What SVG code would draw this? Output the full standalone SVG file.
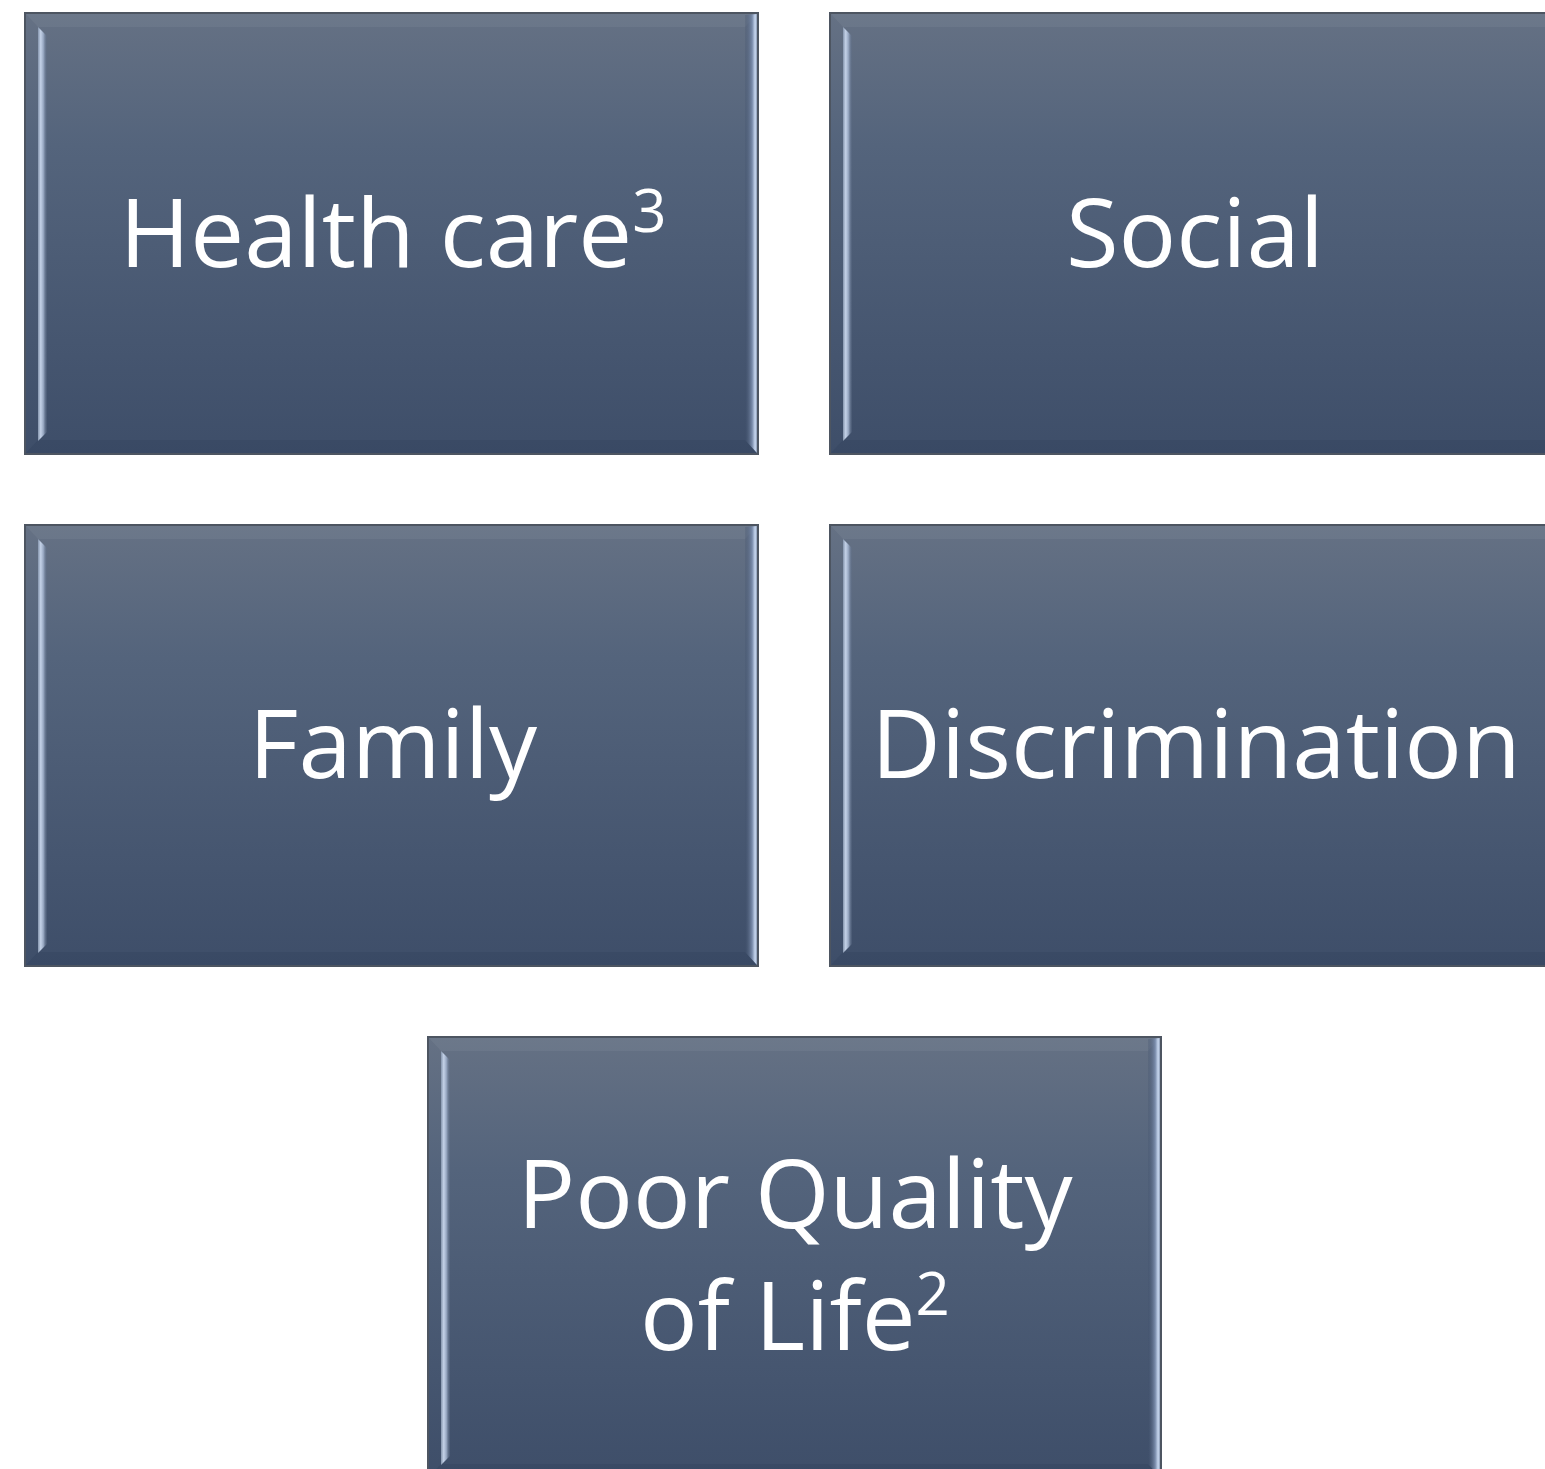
<svg xmlns="http://www.w3.org/2000/svg" xmlns:xlink="http://www.w3.org/1999/xlink" width="1545" height="1469" viewBox="0 0 1545 1469">
<defs>
<linearGradient id="fill" x1="0" y1="0" x2="0" y2="1">
<stop offset="0" stop-color="#657184"/>
<stop offset="0.3" stop-color="#54647c"/>
<stop offset="1" stop-color="#3e4e69"/>
</linearGradient>
<linearGradient id="lhi" x1="0" y1="0" x2="1" y2="0">
<stop offset="0" stop-color="#8595ad"/>
<stop offset="0.3" stop-color="#c4d2e8"/>
<stop offset="0.6" stop-color="#98a8c2"/>
<stop offset="1" stop-color="#5a6a84" stop-opacity="0.3"/>
</linearGradient>
<linearGradient id="rhi" x1="0" y1="0" x2="1" y2="0">
<stop offset="0" stop-color="#3e4e69" stop-opacity="0.2"/>
<stop offset="0.6" stop-color="#7a8cab"/>
<stop offset="0.85" stop-color="#c8d8f0"/>
<stop offset="1" stop-color="#8a9ab4"/>
</linearGradient>
<symbol id="box" overflow="visible">
<rect x="0" y="0" width="733" height="441" fill="url(#fill)" stroke="#4d5561" stroke-width="2"/>
<polygon points="1,1 732,1 720,14 13,14" fill="#ffffff" fill-opacity="0.05"/>
<polygon points="13,427 720,427 732,440 1,440" fill="#1c2a40" fill-opacity="0.12"/>
<polygon points="13,14 22,23 22,419 13,428" fill="url(#lhi)"/>
<polygon points="720,2 732,1 732,440 720,427" fill="url(#rhi)"/>
</symbol>
<style>
.t{font-family:"Open Sans","Liberation Sans",sans-serif;fill:#ffffff;font-size:96px;text-anchor:middle}
.sup{font-size:60px}
</style>
</defs>
<rect width="1545" height="1469" fill="#ffffff"/>
<g id="connectors"/>
<g id="node-healthcare">
<use xlink:href="#box" x="25" y="13"/>
<text class="t" x="393" y="267">Health care<tspan class="sup" dy="-35">3</tspan></text>
</g>
<g id="node-social">
<use xlink:href="#box" x="830" y="13"/>
<text class="t" x="1195" y="267">Social</text>
</g>
<g id="node-family">
<use xlink:href="#box" x="25" y="525"/>
<text class="t" x="393" y="778">Family</text>
</g>
<g id="node-discrimination">
<use xlink:href="#box" x="830" y="525"/>
<text class="t" x="1196" y="778">Discrimination</text>
</g>
<g id="node-qol">
<use xlink:href="#box" x="428" y="1037"/>
<text class="t" x="795" y="1228">Poor Quality</text>
<text class="t" x="795" y="1350">of Life<tspan class="sup" dy="-35">2</tspan></text>
</g>
</svg>
